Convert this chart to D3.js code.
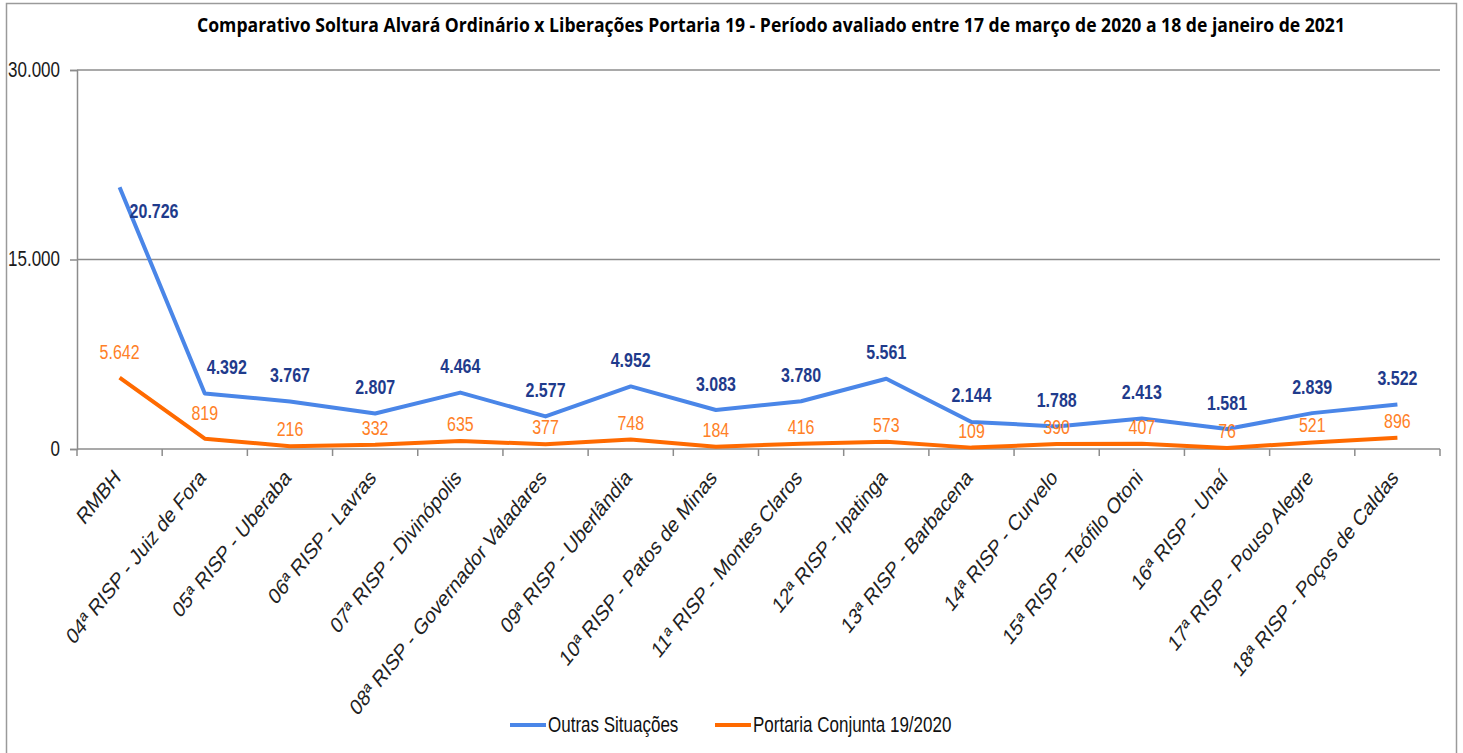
<!DOCTYPE html>
<html>
<head>
<meta charset="utf-8">
<script src="https://cdn.jsdelivr.net/npm/d3@7"></script>
<style>
  body { margin: 0; background: #fff; }
  svg { display: block; }
</style>
</head>
<body>
<div id="chart"></div>
<script>
// data
const regions = ['RMBH', '04ª RISP - Juiz de Fora', '05ª RISP - Uberaba', '06ª RISP - Lavras',
  '07ª RISP - Divinópolis', '08ª RISP - Governador Valadares', '09ª RISP - Uberlândia',
  '10ª RISP - Patos de Minas', '11ª RISP - Montes Claros', '12ª RISP - Ipatinga',
  '13ª RISP - Barbacena', '14ª RISP - Curvelo', '15ª RISP - Teófilo Otoni', '16ª RISP - Unaí',
  '17ª RISP - Pouso Alegre', '18ª RISP - Poços de Caldas'];
const outrasSituacoes = [20726, 4392, 3767, 2807, 4464, 2577, 4952, 3083, 3780, 5561, 2144, 1788, 2413, 1581, 2839, 3522];
const portariaConjunta = [5642, 819, 216, 332, 635, 377, 748, 184, 416, 573, 109, 390, 407, 76, 521, 896];
const yTicks = [0, 15000, 30000];
const seriesNames = ['Outras Situações', 'Portaria Conjunta 19/2020'];
const chartTitle = 'Comparativo Soltura Alvará Ordinário x Liberações Portaria 19 - Período avaliado entre 17 de março de 2020 a 18 de janeiro de 2021';

const width = 1463, height = 753;
const margin = {left: 77, right: 23, top: 70, bottom: 304};
const stretch = 1.3; // the reference glyphs are drawn taller than wide

const ptBR = d3.formatLocale({decimal: ',', thousands: '.', grouping: [3], currency: ['R$', '']});
const fmt = ptBR.format(',d');

const sans = '"Liberation Sans", Arial, sans-serif';

const svg = d3.select('#chart').append('svg')
  .attr('width', width)
  .attr('height', height);

svg.append('rect')
  .attr('x', 6.5).attr('y', 3.5)
  .attr('width', 1450).attr('height', 760)
  .attr('fill', '#fff')
  .attr('stroke', '#9a9a9a')
  .attr('stroke-width', 1.5);

svg.append('text')
  .attr('transform', `translate(771,32) scale(1,1.2)`)
  .attr('text-anchor', 'middle')
  .attr('font-family', '"Open Sans", sans-serif')
  .attr('font-weight', 'bold')
  .attr('font-size', 16.5)
  .attr('textLength', 1148)
  .attr('lengthAdjust', 'spacingAndGlyphs')
  .attr('fill', '#000')
  .text(chartTitle);

const x = d3.scaleBand()
  .domain(regions)
  .range([margin.left, width - margin.right]);

const y = d3.scaleLinear()
  .domain([0, 30000])
  .range([height - margin.bottom, margin.top]);

const cx = d => x(d) + x.bandwidth() / 2;

// y axis
svg.append('g')
  .attr('transform', `translate(${margin.left},0)`)
  .call(d3.axisLeft(y).tickValues(yTicks).tickFormat(fmt).tickSize(7).tickPadding(10))
  .call(g => g.select('.domain').attr('stroke', '#8c8c8c').attr('stroke-width', 1.5))
  .call(g => g.selectAll('.tick line').attr('stroke', '#8c8c8c').attr('stroke-width', 1.5))
  .call(g => g.selectAll('.tick text')
    .attr('dy', null)
    .attr('transform', `translate(0,6) scale(1,${stretch})`)
    .attr('font-family', sans)
    .attr('font-size', 17)
    .attr('fill', '#1a1a1a'));

// gridlines
svg.append('g')
  .selectAll('line')
  .data(yTicks.filter(t => t > 0))
  .join('line')
  .attr('x1', margin.left).attr('x2', width - margin.right)
  .attr('y1', d => y(d)).attr('y2', d => y(d))
  .attr('stroke', '#8c8c8c')
  .attr('stroke-width', 1.5);

// x axis, ticks sit on the category boundaries
const xAxisG = svg.append('g')
  .attr('transform', `translate(0,${y(0)})`);
xAxisG.append('line')
  .attr('x1', margin.left).attr('x2', width - margin.right)
  .attr('stroke', '#8c8c8c').attr('stroke-width', 1.5);
xAxisG.selectAll('line.tick')
  .data([null].concat(regions))
  .join('line')
  .attr('class', 'tick')
  .attr('x1', d => d === null ? margin.left : x(d) + x.bandwidth())
  .attr('x2', d => d === null ? margin.left : x(d) + x.bandwidth())
  .attr('y1', 0).attr('y2', 7)
  .attr('stroke', '#8c8c8c').attr('stroke-width', 1.5);
xAxisG.selectAll('text')
  .data(regions)
  .join('text')
  .attr('transform', d => `translate(${cx(d) + 2},${30}) scale(1,1.25) rotate(-45)`)
  .attr('text-anchor', 'end')
  .attr('font-family', sans)
  .attr('font-size', 18)
  .attr('fill', '#222')
  .text(d => d);

// lines
const line = d3.line()
  .x((d, i) => cx(regions[i]))
  .y(d => y(d));

const series = [
  {name: seriesNames[0], values: outrasSituacoes, color: '#4a86e8', labelColor: '#1f3b8c', weight: 'bold'},
  {name: seriesNames[1], values: portariaConjunta, color: '#ff6a00', labelColor: '#ff7f27', weight: 'normal'}
];

series.forEach(s => {
  svg.append('path')
    .datum(s.values)
    .attr('fill', 'none')
    .attr('stroke', s.color)
    .attr('stroke-width', 4)
    .attr('stroke-linejoin', 'round')
    .attr('d', line);
});

// value labels (a few are nudged like in the reference)
series.forEach((s, si) => {
  svg.append('g')
    .selectAll('text')
    .data(s.values)
    .join('text')
    .attr('transform', (d, i) => {
      let lx = cx(regions[i]);
      let ly = si === 0 ? y(d) - 19.5 : y(d) - (i < 2 ? 18.5 : 10);
      if (si === 0 && i === 0) { lx += 10; ly = y(d) + 31; }
      if (si === 0 && i === 1) lx += 22;
      return `translate(${lx},${ly}) scale(1,${stretch})`;
    })
    .attr('text-anchor', (d, i) => (si === 0 && i === 0) ? 'start' : 'middle')
    .attr('font-family', sans)
    .attr('font-weight', s.weight)
    .attr('font-size', 16)
    .attr('fill', s.labelColor)
    .text(d => fmt(d));
});

// legend
const legend = svg.append('g');
const legendX = [510, 715];
series.forEach((s, i) => {
  legend.append('line')
    .attr('x1', legendX[i]).attr('x2', legendX[i] + 36)
    .attr('y1', 725).attr('y2', 725)
    .attr('stroke', s.color).attr('stroke-width', 4);
  legend.append('text')
    .attr('transform', `translate(${legendX[i] + 38},732) scale(1,1.35)`)
    .attr('font-family', sans)
    .attr('font-size', 17)
    .attr('fill', '#111')
    .text(s.name);
});
</script>
</body>
</html>
